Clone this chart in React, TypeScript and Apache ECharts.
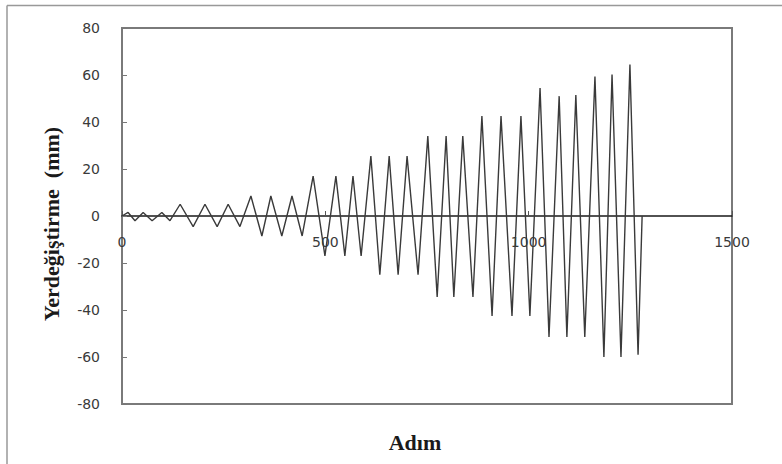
import React, { useEffect, useRef } from "react";
import * as echarts from "echarts";

// Loading history: step number and imposed displacement (mm) at each turning point
const steps: number[] = [
  0, 15, 32, 52, 74, 98, 118,
  143, 175, 204, 234, 261, 290,
  317, 344, 366, 393, 418, 443,
  470, 499, 526, 548, 568, 588,
  612, 634, 657, 679, 701, 728,
  752, 775, 797, 816, 838, 863,
  885, 910, 932, 959, 981, 1003,
  1028, 1050, 1075, 1094, 1116, 1138,
  1163, 1185, 1205, 1227, 1249, 1269, 1279,
];

const displacement: number[] = [
  0, 1.5, -2, 1.5, -2, 1.5, -2,
  5, -4.5, 5, -4.5, 5, -4.5,
  8.5, -8.5, 8.5, -8.5, 8.5, -8.5,
  17, -17, 17, -17, 17, -17,
  25.5, -25, 25.5, -25, 25.5, -25,
  34, -34.5, 34, -34.5, 34, -34.5,
  42.5, -42.5, 42.5, -42.5, 42.5, -42.5,
  54.5, -51.5, 51, -51.5, 51.5, -51.5,
  59.3, -60, 60.2, -60, 64.5, -59, 0,
];

const xTitle = "Adım";
const yTitle = "Yerdeğiştirme  (mm)";

const GRID_TOP = 28;
const GRID_BOTTOM = 60;
const CHART_H = 464;
const Y_MIN = -80;
const Y_MAX = 80;

export default function App() {
  const ref = useRef<HTMLDivElement>(null);

  useEffect(() => {
    if (!ref.current) return;
    const chart = echarts.init(ref.current, null, { renderer: "svg" });
    const data = steps.map((s, i) => [s, displacement[i]]);
    const labelFont = { fontFamily: "DejaVu Sans", fontSize: 14, color: "#3a3a3a" };

    // lift the step axis from the bottom edge of the plot up to the zero line
    const plotH = CHART_H - GRID_TOP - GRID_BOTTOM;
    const zeroLift = (plotH * (0 - Y_MIN)) / (Y_MAX - Y_MIN);

    chart.setOption({
      animation: false,
      backgroundColor: "#ffffff",
      grid: {
        left: 122,
        top: GRID_TOP,
        right: 50,
        bottom: GRID_BOTTOM,
        show: true,
        borderColor: "#7a7a7a",
        borderWidth: 2,
        backgroundColor: "transparent",
      },
      xAxis: {
        type: "value",
        min: 0,
        max: 1500,
        interval: 500,
        offset: -zeroLift,
        axisLine: { onZero: false, lineStyle: { color: "#1a1a1a", width: 1.5 } },
        axisTick: { show: true, inside: true, length: 5, lineStyle: { color: "#555" } },
        axisLabel: { ...labelFont, margin: 19, formatter: (v: number) => String(v) },
        splitLine: { show: false },
      },
      yAxis: {
        type: "value",
        min: Y_MIN,
        max: Y_MAX,
        interval: 20,
        axisLine: { show: false },
        axisTick: { show: true, inside: true, length: 5, lineStyle: { color: "#777" } },
        axisLabel: { ...labelFont, margin: 22, formatter: (v: number) => String(v) },
        splitLine: { show: false },
      },
      series: [
        {
          type: "line",
          data,
          showSymbol: false,
          symbol: "none",
          lineStyle: { color: "#3a3a3a", width: 1.4 },
        },
      ],
      graphic: [
        {
          type: "line",
          shape: { x1: 7, y1: 5.5, x2: 782, y2: 5.5 },
          style: { stroke: "#999", lineWidth: 1.5 },
        },
        {
          type: "line",
          shape: { x1: 7, y1: 5.5, x2: 7, y2: 464 },
          style: { stroke: "#999", lineWidth: 1.5 },
        },
        {
          type: "text",
          x: 415,
          y: 442,
          style: {
            text: xTitle,
            fontFamily: "Liberation Serif",
            fontWeight: "bold",
            fontSize: 22,
            fill: "#1a1a1a",
            align: "center",
            verticalAlign: "middle",
          },
        },
        {
          type: "text",
          x: 51,
          y: 224,
          rotation: Math.PI / 2,
          style: {
            text: yTitle,
            fontFamily: "Liberation Serif",
            fontWeight: "bold",
            fontSize: 22,
            fill: "#1a1a1a",
            align: "center",
            verticalAlign: "middle",
          },
        },
      ],
    });

    return () => chart.dispose();
  }, []);

  return (
    <div
      ref={ref}
      style={{ position: "fixed", left: 0, top: 0, width: 782, height: 464 }}
    />
  );
}
